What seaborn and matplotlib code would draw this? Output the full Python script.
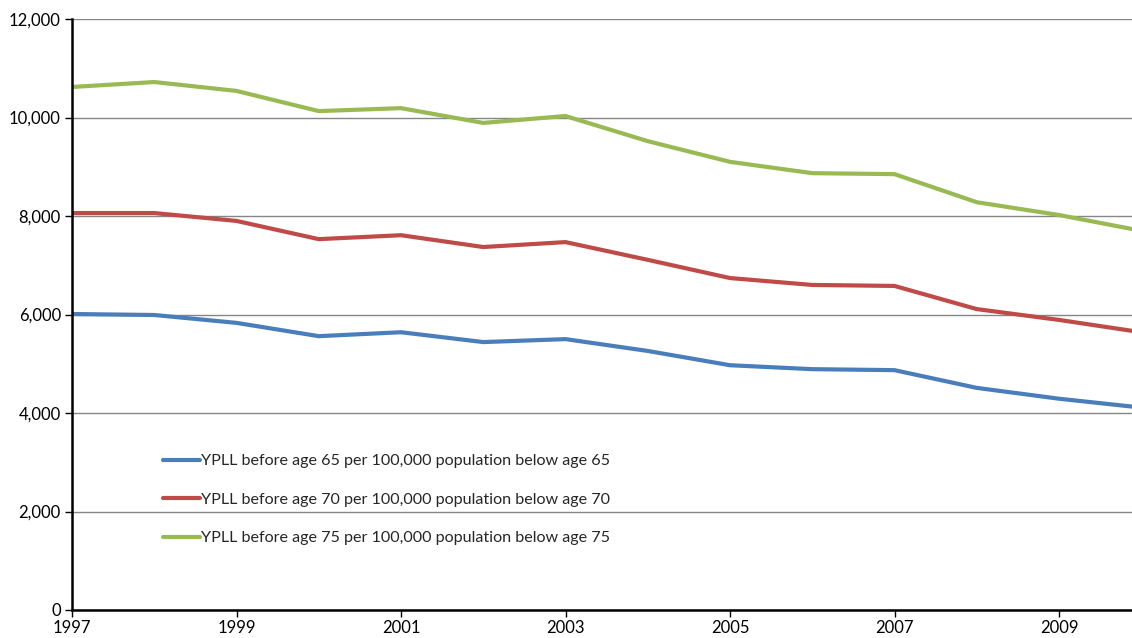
import matplotlib
matplotlib.use("Agg")
import matplotlib.pyplot as plt
import seaborn as sns
import pandas as pd
from matplotlib.ticker import FuncFormatter, MultipleLocator, FixedLocator

years = [1997, 1998, 1999, 2000, 2001, 2002, 2003, 2004, 2005, 2006, 2007, 2008, 2009, 2010]
ypll65 = [6010, 5990, 5830, 5560, 5640, 5440, 5500, 5260, 4970, 4890, 4870, 4510, 4290, 4110]
ypll70 = [8060, 8060, 7900, 7530, 7610, 7370, 7470, 7110, 6740, 6600, 6580, 6110, 5890, 5640]
ypll75 = [10620, 10720, 10540, 10130, 10190, 9890, 10030, 9520, 9100, 8870, 8850, 8280, 8020, 7700]
year_ticks = [1997, 1999, 2001, 2003, 2005, 2007, 2009]

labels = [
    "YPLL before age 65 per 100,000 population below age 65",
    "YPLL before age 70 per 100,000 population below age 70",
    "YPLL before age 75 per 100,000 population below age 75",
]
colors = ["#4A7EBB", "#BE4B48", "#98B954"]

frames = []
for lab, vals in zip(labels, [ypll65, ypll70, ypll75]):
    frames.append(pd.DataFrame({"year": years, "value": vals, "series": lab}))
df = pd.concat(frames, ignore_index=True)

sns.set_theme(style="white")
plt.rcParams["font.family"] = ["Lato", "DejaVu Sans"]

W, H = 1132, 638
fig = plt.figure(figsize=(W / 100, H / 100), dpi=100)
ax = fig.add_axes([72 / W, (H - 610) / H, (W - 72) / W, (610 - 19) / H])

sns.lineplot(data=df, x="year", y="value", hue="series", palette=colors,
             linewidth=3.0, ax=ax, legend=True)

px_per_year = 82.25
ax.set_xlim(1997, 1997 + (W - 72) / px_per_year)
ax.set_ylim(0, 12000)
ax.yaxis.set_major_locator(MultipleLocator(2000))
ax.xaxis.set_major_locator(FixedLocator(year_ticks))
ax.yaxis.set_major_formatter(FuncFormatter(lambda v, p: f"{int(v):,}"))
ax.xaxis.set_major_formatter(FuncFormatter(lambda v, p: f"{int(v)}"))

ax.grid(axis="y", color="#868686", linewidth=1.0)
ax.grid(axis="x", visible=False)
ax.set_axisbelow(True)
for side in ["top", "right"]:
    ax.spines[side].set_visible(False)
for side in ["left", "bottom"]:
    ax.spines[side].set_color("black")
    ax.spines[side].set_linewidth(1.8)
ax.tick_params(axis="both", which="major", direction="out", length=5, width=1,
               color="black", labelsize=12, labelcolor="black", pad=3)
ax.tick_params(axis="x", pad=2, bottom=True)
ax.tick_params(axis="y", left=True)
ax.set_xlabel("")
ax.set_ylabel("")

leg = ax.legend(loc="upper left", bbox_to_anchor=((163 - 72) / (W - 72), (610 - 454) / (610 - 19)),
                frameon=False, fontsize=11.6, handlelength=2.3, handletextpad=0.05,
                labelspacing=1.5, borderaxespad=0, borderpad=0)
for line in leg.get_lines():
    line.set_linewidth(3.0)

fig.savefig("out.png", dpi=100)
